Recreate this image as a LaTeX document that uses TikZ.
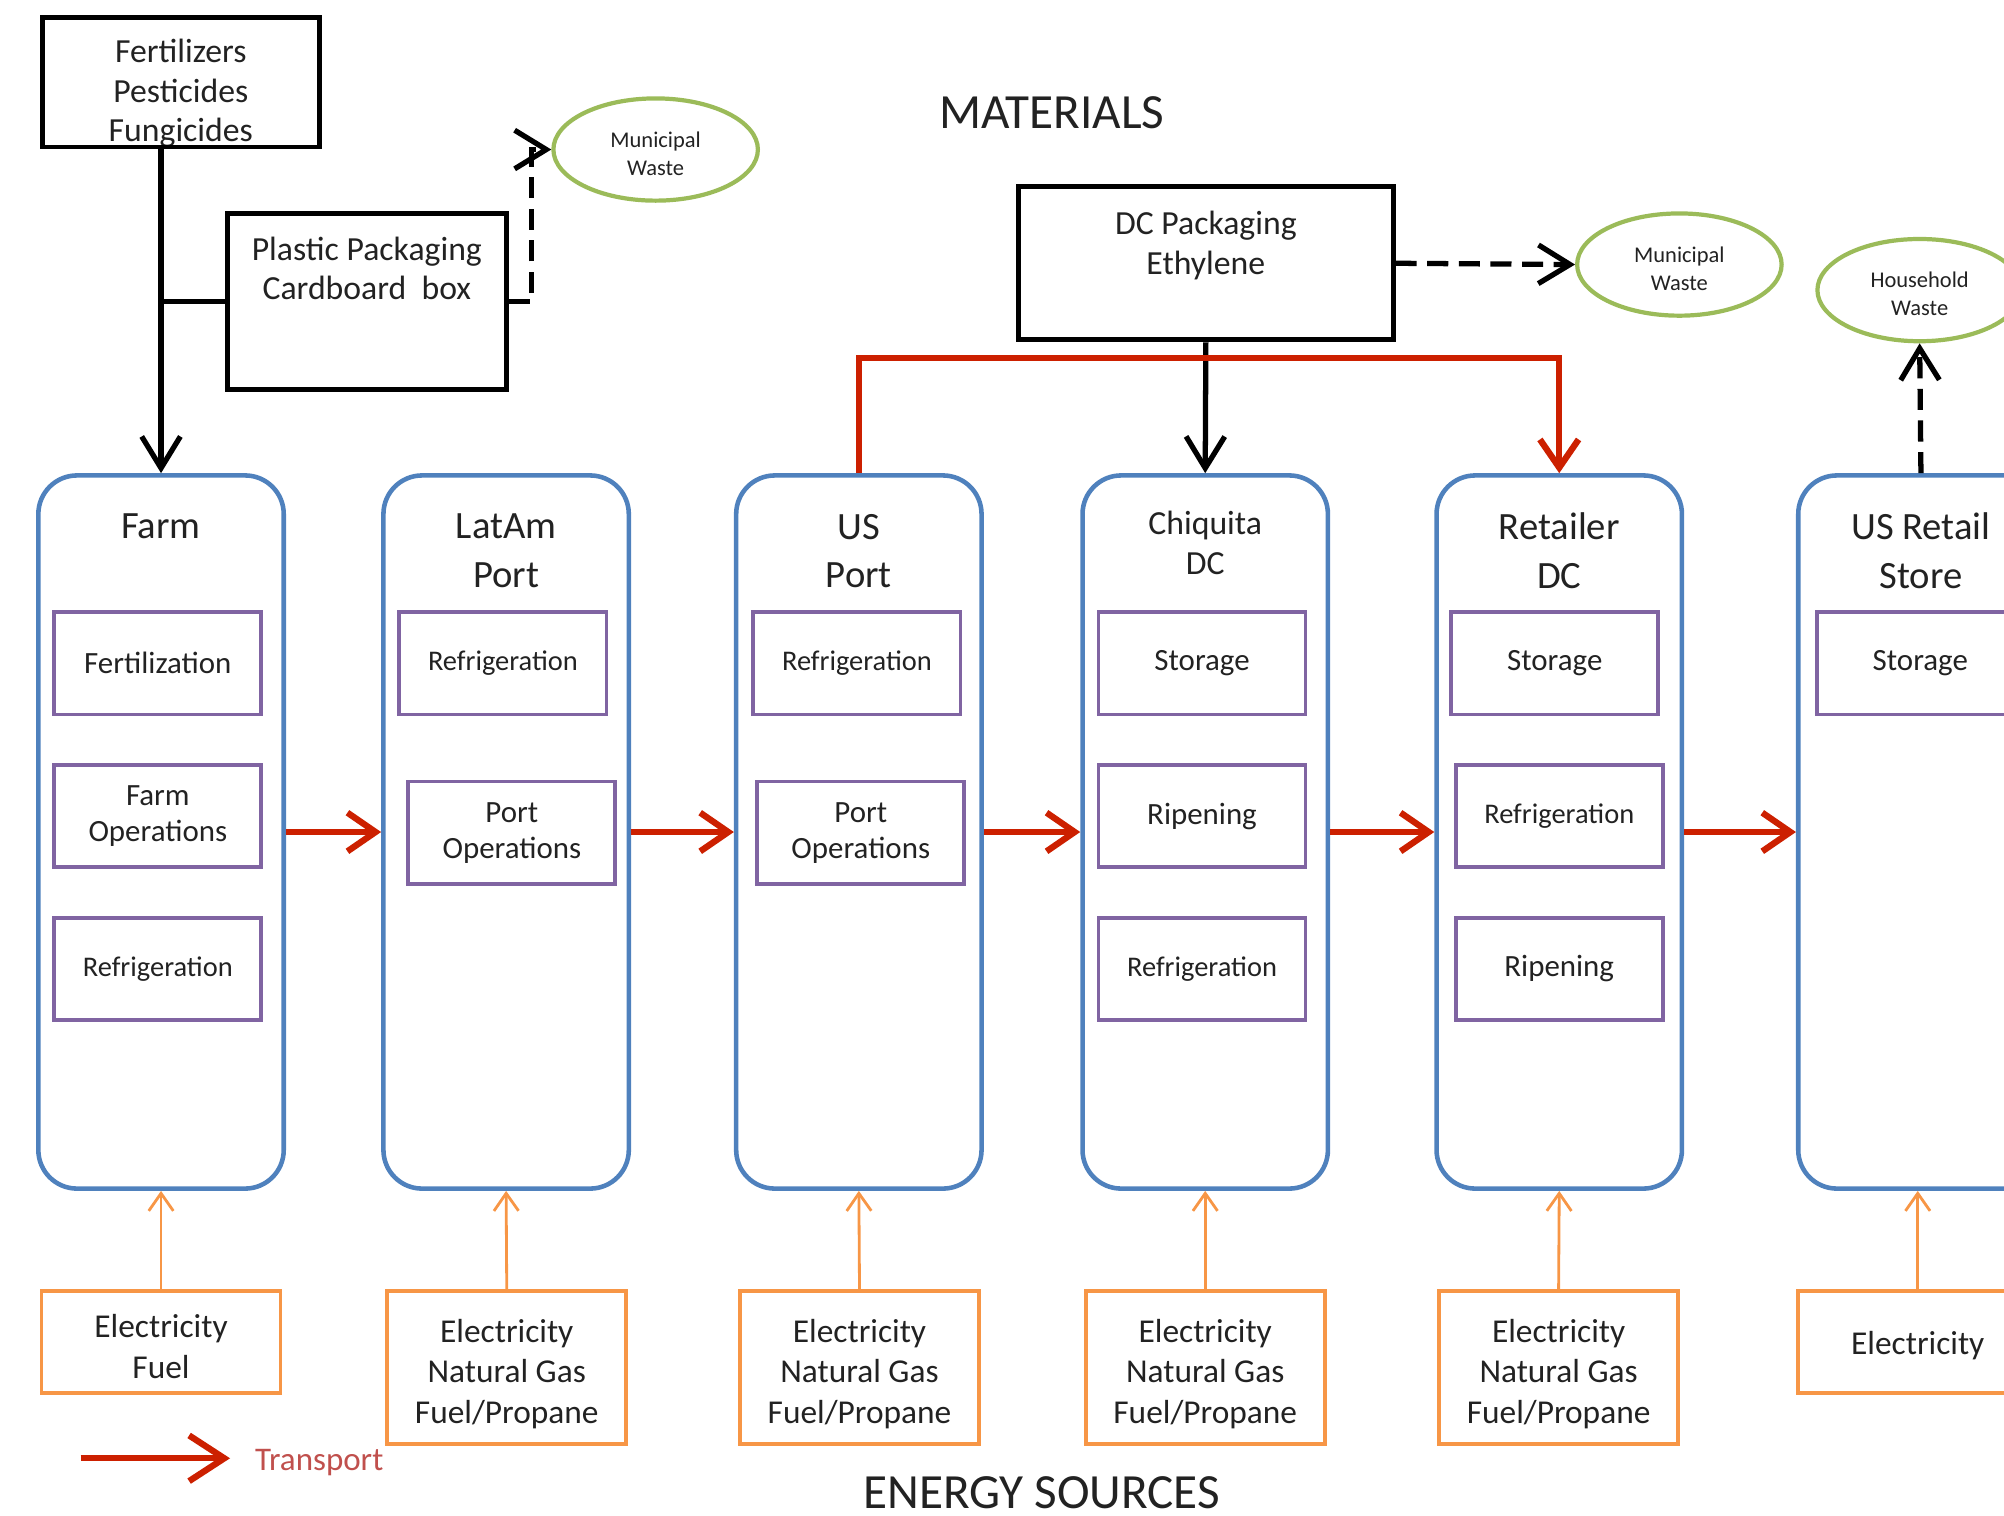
\documentclass[tikz,border=0pt]{standalone}
\usepackage{fontspec}
\setmainfont{Carlito}
\usetikzlibrary{arrows.meta,shapes.geometric}
\newlength\px
\setlength\px{0.01278cm}
\definecolor{stageblue}{RGB}{79,129,189}
\definecolor{taskpurple}{RGB}{128,100,162}
\definecolor{energyorange}{RGB}{247,150,70}
\definecolor{wastegreen}{RGB}{155,187,89}
\definecolor{transportred}{RGB}{204,32,0}
\definecolor{legendred}{RGB}{192,80,77}
\definecolor{inkgray}{RGB}{34,34,34}
\tikzset{
  every node/.style = {text=inkgray},
  stage/.style = {draw=stageblue, line width=1.3pt, rounded corners=11pt,
    minimum width=192\px, minimum height=558\px, inner sep=0pt},
  stagetitle/.style = {align=center, inner sep=0pt,
    font=\fontsize{11}{13.8}\selectfont},
  task/.style = {draw=taskpurple, line width=1.1pt, align=center, inner sep=0pt,
    minimum width=162\px, minimum height=80\px, font=\fontsize{8.8}{10.2}\selectfont},
  cooling/.style = {task, font=\fontsize{8.1}{10}\selectfont},
  energy/.style = {draw=energyorange, line width=1.1pt, align=center, inner sep=0pt,
    minimum width=187\px, font=\fontsize{9.5}{11.5}\selectfont},
  material/.style = {draw=black, line width=1.4pt, inner sep=0pt},
  mattext/.style = {align=center, inner sep=0pt, font=\fontsize{9.6}{11.3}\selectfont},
  waste/.style = {ellipse, draw=wastegreen, line width=1.2pt, align=center, inner sep=0pt,
    minimum width=160\px, minimum height=80\px, font=\fontsize{6.4}{8}\selectfont},
  heading/.style = {inner sep=0pt, font=\fontsize{14}{16}\selectfont},
  transport/.style = {draw=transportred, line width=1.8pt,
    -{Straight Barb[length=8pt,width=11pt]}},
  matflow/.style = {draw=black, line width=1.5pt, -{Straight Barb[length=9pt,width=11pt]}},
  wasteflow/.style = {matflow, dash pattern=on 6pt off 3pt},
  energyflow/.style = {draw=energyorange, line width=0.8pt,
    -{Straight Barb[length=5pt,width=7pt]}}
}

\begin{document}
\begin{tikzpicture}[x=1\px, y=-1\px]
\clip (0,0) rectangle (1568,1186);

% supply chain stages
\node[stage] (farm) at (126,651) {};
\node[stage] (latam) at (396,651) {};
\node[stage] (usport) at (672,651) {};
\node[stage] (chiquita) at (943,651) {};
\node[stage] (retailer) at (1220,651) {};
\node[stage] (usretail) at (1503,651) {};

\node[stagetitle] (farmtitle) at (126,412) {Farm};
\node[stagetitle] (latamtitle) at (396,431) {LatAm\\Port};
\node[stagetitle] (usporttitle) at (672,431) {US\\Port};
\node[stagetitle, font=\fontsize{9.6}{11.3}\selectfont] (chiquitatitle) at (943,425) {Chiquita\\DC};
\node[stagetitle] (retailertitle) at (1220,431) {Retailer\\DC};
\node[stagetitle] (usretailtitle) at (1503,431) {US Retail\\Store};

% activities
\node[task] (farmfert) at (123.5,519) {Fertilization};
\node[task] (farmops) at (123.5,638.5) {Farm\\Operations};
\node[cooling] (farmref) at (123.5,758) {Refrigeration};
\node[cooling] (latamref) at (393.5,519) {Refrigeration};
\node[task] (latamops) at (400.5,651.5) {Port\\Operations};
\node[cooling] (usportref) at (670.5,519) {Refrigeration};
\node[task] (usportops) at (673.5,651.5) {Port\\Operations};
\node[task] (chiqstore) at (940.5,519) {Storage};
\node[task] (chiqripe) at (940.5,638.5) {Ripening};
\node[cooling] (chiqref) at (940.5,758) {Refrigeration};
\node[task] (retstore) at (1216.5,519) {Storage};
\node[cooling] (retref) at (1220,638.5) {Refrigeration};
\node[task] (retripe) at (1220,758) {Ripening};
\node[task] (usretstore) at (1502.5,519) {Storage};

% energy sources
\node[energy, minimum height=80\px] (farmenergy) at (126,1050) {};
\node (farmenergytext) [energy, draw=none] at (126,1053.5) {Electricity\\Fuel};
\node[energy, minimum height=120\px] (latamenergy) at (396.5,1070) {};
\node (latamenergytext) [energy, draw=none] at (396.5,1075) {Electricity\\Natural Gas\\Fuel/Propane};
\node[energy, minimum height=120\px] (usportenergy) at (672.5,1070) {};
\node (usportenergytext) [energy, draw=none] at (672.5,1075) {Electricity\\Natural Gas\\Fuel/Propane};
\node[energy, minimum height=120\px] (chiqenergy) at (943,1070) {};
\node (chiqenergytext) [energy, draw=none] at (943,1075) {Electricity\\Natural Gas\\Fuel/Propane};
\node[energy, minimum height=120\px] (retenergy) at (1219.5,1070) {};
\node (retenergytext) [energy, draw=none] at (1219.5,1075) {Electricity\\Natural Gas\\Fuel/Propane};
\node[energy, minimum height=80\px] (usretenergy) at (1500.5,1050) {};
\node (usretenergytext) [energy, draw=none] at (1500.5,1053) {Electricity};

\draw[energyflow] (farmenergy.north) -- (farm.south);
\draw[energyflow] (latamenergy.north) -- (latam.south);
\draw[energyflow] (usportenergy.north) -- (usport.south);
\draw[energyflow] (chiqenergy.north) -- (chiquita.south);
\draw[energyflow] (retenergy.north) -- (retailer.south);
\draw[energyflow] (usretenergy.north) -- (usretenergy.north |- usretail.south);

% materials
\node[mattext] (ferttext) at (141.5,73) {Fertilizers\\Pesticides\\Fungicides};
\node[material, minimum width=217\px, minimum height=101\px] (fert) at (141.5,64.5) {};
\node[material, minimum width=218\px, minimum height=138\px] (plastic) at (287,236) {};
\node[mattext] (plastictext) at (287,210) {Plastic Packaging\\Cardboard~ box};
\node[material, minimum width=293\px, minimum height=120\px] (dcpack) at (943.5,206) {};
\node[mattext] (dcpacktext) at (943.5,192) {DC Packaging\\Ethylene};

\node[waste] (farmwaste) at (513,117) {};
\node (farmwastetext) [waste, draw=none] at (513,120) {Municipal\\Waste};
\node[waste] (dcwaste) at (1314,207) {};
\node (dcwastetext) [waste, draw=none] at (1314,210) {Municipal\\Waste};
\node[waste] (storewaste) at (1502,227) {};
\node (storewastetext) [waste, draw=none] at (1502,230) {Household\\Waste};

\draw[matflow] (fert.south -| farm.north) -- (farm.north);
\draw[line width=1.5pt] (plastic.west) -- (plastic.west -| farm.north);
\draw[wasteflow] (plastic.east) -- ++(18,0) |- (farmwaste.west);
\draw[wasteflow] (dcpack.east) -- (dcwaste.west);
\draw[matflow] (dcpack.south) -- (chiquita.north);
\draw[transport] (usport.north) -- ++(0,-90) -| (retailer.north);
\draw[wasteflow] (usretail.north) -- (storewaste.south);

% transport between stages
\draw[transport] (farm.east) -- (latam.west);
\draw[transport] (latam.east) -- (usport.west);
\draw[transport] (usport.east) -- (chiquita.west);
\draw[transport] (chiquita.east) -- (retailer.west);
\draw[transport] (retailer.east) -- (usretail.west);

\node[heading] (materials) at (823,88) {MATERIALS};
\node[heading] (energysrc) at (815,1168) {ENERGY SOURCES};

% legend
\coordinate (legfrom) at (63,1141);
\coordinate (legto) at (180,1141);
\draw[transport, -{Straight Barb[length=10pt,width=13pt]}] (legfrom) -- (legto);
\node[anchor=west, inner sep=0pt, text=legendred, font=\fontsize{9.4}{11}\selectfont] (legtext) at (199,1144) {Transport};
\end{tikzpicture}
\end{document}
